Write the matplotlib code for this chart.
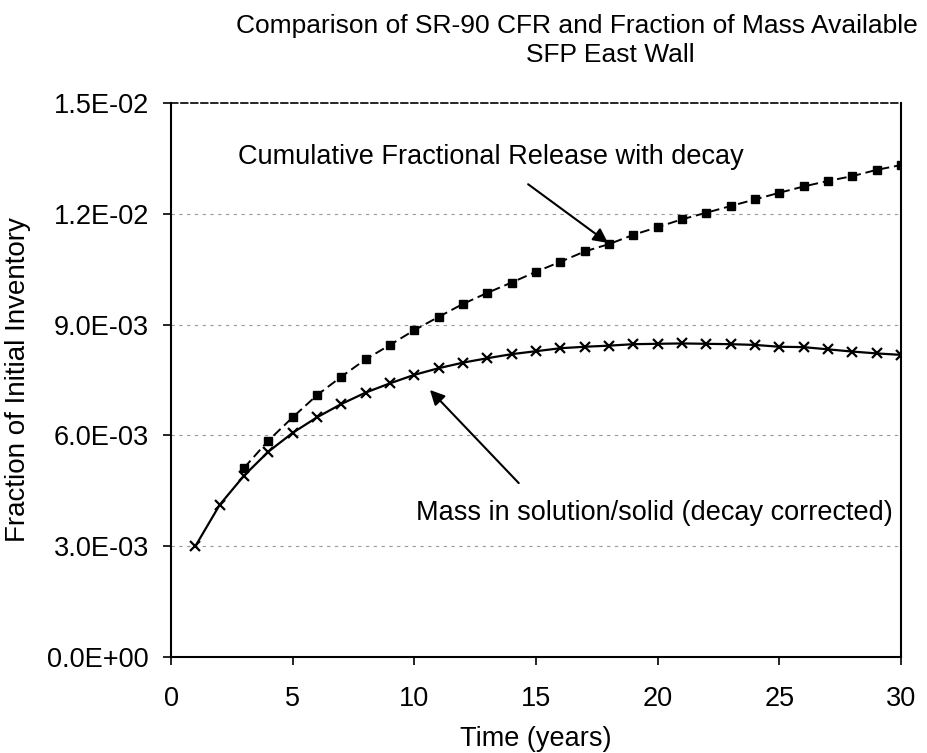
import numpy as np
import matplotlib
matplotlib.use("Agg")
import matplotlib.pyplot as plt
from matplotlib.ticker import FuncFormatter

plt.rcParams['font.family'] = ['Liberation Sans', 'DejaVu Sans']

# mass in solution/solid (decay corrected), years 1..30
years_mass = list(range(1, 31))
mass = [3.00e-3, 4.12e-3, 4.91e-3, 5.56e-3, 6.07e-3, 6.49e-3, 6.85e-3, 7.16e-3,
        7.41e-3, 7.64e-3, 7.82e-3, 7.97e-3, 8.09e-3, 8.20e-3, 8.28e-3, 8.36e-3,
        8.40e-3, 8.43e-3, 8.47e-3, 8.48e-3, 8.49e-3, 8.48e-3, 8.47e-3, 8.45e-3,
        8.40e-3, 8.39e-3, 8.33e-3, 8.27e-3, 8.22e-3, 8.18e-3]

# cumulative fractional release with decay, years 3..30
years_cfr = list(range(3, 31))
cfr = [5.12e-3, 5.86e-3, 6.49e-3, 7.09e-3, 7.59e-3, 8.06e-3, 8.45e-3, 8.85e-3,
       9.21e-3, 9.56e-3, 9.86e-3, 10.14e-3, 10.43e-3, 10.70e-3, 10.98e-3,
       11.18e-3, 11.43e-3, 11.64e-3, 11.85e-3, 12.03e-3, 12.21e-3, 12.39e-3,
       12.57e-3, 12.74e-3, 12.89e-3, 13.02e-3, 13.19e-3, 13.32e-3]

x_ticks = [0, 5, 10, 15, 20, 25, 30]
y_ticks = [0.0, 0.003, 0.006, 0.009, 0.012, 0.015]

fig = plt.figure(figsize=(9.28, 7.53), dpi=100)
ax = fig.add_axes([0.1843, 0.1275, 0.7866, 0.7357])

for y in y_ticks[1:-1]:
    ax.axhline(y, color='#999999', lw=0.8, ls=(0, (3, 4)), zorder=0)

ax.plot(years_cfr, cfr, color='black', lw=1.4, ls=(0, (5, 2.5)),
        marker='s', ms=5.5, mfc='black', mec='black', zorder=3)
ax.plot(years_mass, mass, color='black', lw=1.6, ls='-',
        marker='x', ms=7, mew=1.6, zorder=3)

ax.set_xlim(0, 30)
ax.set_ylim(0, 0.015)
ax.set_xticks(x_ticks)
ax.set_yticks(y_ticks)
ax.yaxis.set_major_formatter(FuncFormatter(lambda v, p: format(v, '.1E')))
ax.tick_params(axis='both', direction='out', length=6, width=1.2,
               labelsize=19.5, colors='black')
ax.tick_params(axis='x', pad=15)
ax.tick_params(axis='y', pad=10)
for s in ['left', 'bottom', 'right']:
    ax.spines[s].set_linewidth(1.5)
ax.spines['top'].set_linewidth(1.2)
ax.spines['top'].set_linestyle((0, (4, 2)))

ax.set_xlabel('Time (years)', fontsize=19.5, labelpad=10)
ax.set_ylabel('Fraction of Initial Inventory', fontsize=20, labelpad=12)

ax.annotate('Cumulative Fractional Release with decay',
            xy=(17.96, 11.21e-3), xytext=(13.15, 13.54e-3),
            fontsize=19.5, ha='center', va='center',
            arrowprops=dict(arrowstyle='-|>', color='black', lw=1.5,
                            mutation_scale=22, shrinkA=14, shrinkB=0))
ax.annotate('Mass in solution/solid (decay corrected)',
            xy=(10.64, 7.23e-3), xytext=(19.85, 3.90e-3),
            fontsize=19.5, ha='center', va='center',
            arrowprops=dict(arrowstyle='-|>', color='black', lw=1.5,
                            mutation_scale=22, shrinkA=14, shrinkB=0,
                            relpos=(0.25, 1.0)))

fig.text(0.622, 0.966, 'Comparison of SR-90 CFR and Fraction of Mass Available',
         fontsize=19, ha='center', va='center')
fig.text(0.658, 0.927, 'SFP East Wall', fontsize=19, ha='center', va='center')

fig.savefig('out.png', dpi=100)
